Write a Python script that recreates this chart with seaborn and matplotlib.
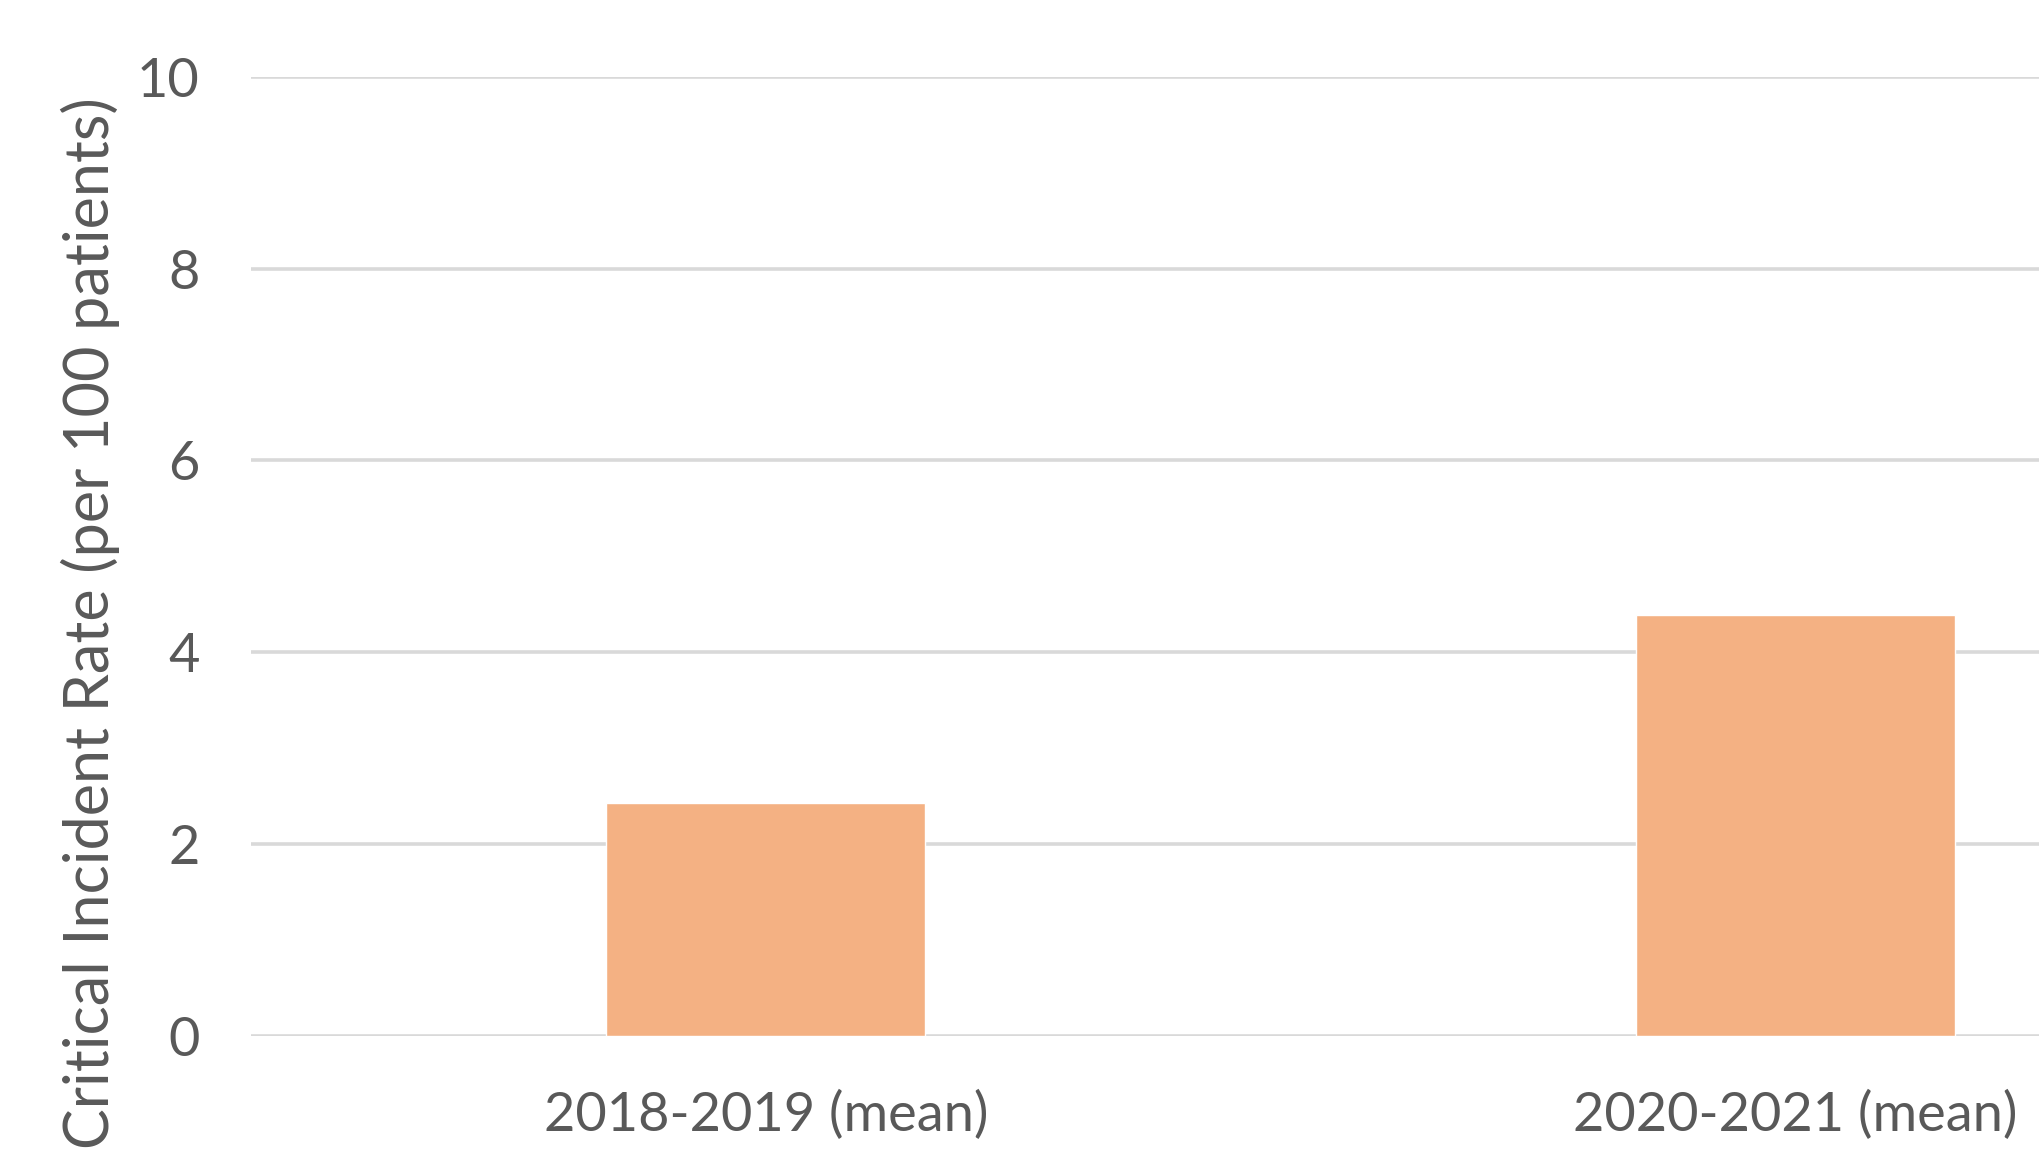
import matplotlib
matplotlib.use("Agg")
import matplotlib.pyplot as plt
import seaborn as sns
import pandas as pd

categories = ["2018-2019 (mean)", "2020-2021 (mean)"]
values = [2.43, 4.39]
y_ticks = [0, 2, 4, 6, 8, 10]
y_label = "Critical Incident Rate (per 100 patients)"

sns.set_theme(style="white")
plt.rcParams['font.family'] = ['Lato', 'DejaVu Sans']

df = pd.DataFrame({"period": categories, "rate": values})

W, H = 2040, 1166
fig = plt.figure(figsize=(W / 100, H / 100), dpi=100)
ax = fig.add_axes([251 / W, 130.4 / H, 2059 / W, 958.8 / H])

sns.barplot(data=df, x="period", y="rate", color="#F4B183", saturation=1,
            width=0.31, ax=ax, zorder=3)

ax.set_ylim(0, 10)
ax.set_xlim(-0.5, 1.5)
ax.set_yticks(y_ticks)
ax.yaxis.grid(True, color="#d9d9d9", linewidth=2.6, zorder=0)
ax.xaxis.grid(False)
ax.set_axisbelow(True)
for s in ax.spines.values():
    s.set_visible(False)

text_color = "#595959"
ax.tick_params(axis="y", length=0, pad=37, labelsize=39, labelcolor=text_color)
ax.tick_params(axis="x", length=0, pad=39, labelsize=39, labelcolor=text_color)
ax.set_xlabel("")
ax.set_ylabel(y_label, fontsize=44, color=text_color, va="center")
ax.yaxis.set_label_coords(-0.078, 0.43)

fig.savefig("out.png", dpi=100)
